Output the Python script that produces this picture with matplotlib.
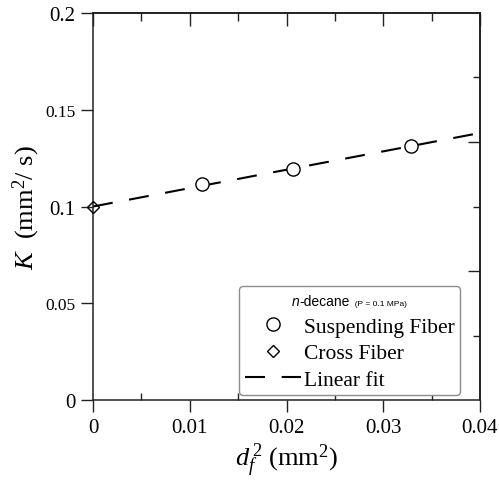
import numpy as np
import matplotlib
matplotlib.use("Agg")
import matplotlib.pyplot as plt
from matplotlib.offsetbox import TextArea, HPacker, AnnotationBbox

plt.rcParams['font.family'] = ['Liberation Serif', 'DejaVu Serif']
plt.rcParams['mathtext.fontset'] = 'custom'
plt.rcParams['mathtext.rm'] = 'Liberation Serif'
plt.rcParams['mathtext.it'] = 'Liberation Serif:italic'

# data
susp_d2 = [0.0113, 0.0207, 0.0329]
susp_K = [0.1116, 0.1194, 0.1313]
cross_d2 = [0.0]
cross_K = [0.0995]
fit_d2 = [0.0, 0.04]
fit_K = [0.100, 0.138]

xticks = [0, 0.01, 0.02, 0.03, 0.04]
xticklabels = ['0', '0.01', '0.02', '0.03', '0.04']
yticks = [0, 0.05, 0.1, 0.15, 0.2]
yticklabels = ['0', '0.05', '0.1', '0.15', '0.2']

fig = plt.figure(figsize=(4.99, 4.81), dpi=100)
ax = fig.add_axes([0.1864, 0.1663, 0.9619 - 0.1864, 0.9709 - 0.1663])

ax.plot(fit_d2, fit_K, color='black', lw=1.5, ls=(0, (9.6, 8.0)),
        label='Linear fit', zorder=2)
ax.plot(susp_d2, susp_K, ls='none', marker='o', ms=9.5, mfc='white',
        mec='black', mew=1.0, label='Suspending Fiber', zorder=3)
ax.plot(cross_d2, cross_K, ls='none', marker='D', ms=6.5, mfc='none',
        mec='black', mew=1.0, label='Cross Fiber', zorder=3, clip_on=False)

ax.set_xlim(0, 0.04)
ax.set_ylim(0, 0.2)
ax.set_xticks(xticks)
ax.set_xticklabels(xticklabels, fontsize=15)
ax.set_xticks(np.arange(0.005, 0.04, 0.01), minor=True)
ax.set_yticks(yticks)
ax.set_yticklabels(yticklabels)
for lab, v in zip(ax.get_yticklabels(), yticks):
    lab.set_fontsize(15 if v in (0, 0.1, 0.2) else 12.5)

for s in ax.spines.values():
    s.set_linewidth(1.1)
    s.set_color('#222222')
ax.tick_params(which='major', direction='out', length=8.6, width=1.0,
               color='#222222', pad=4)
ax.tick_params(which='minor', direction='in', length=5, width=1.0,
               color='#222222')
ax.tick_params(axis='y', which='minor', left=False)

top = ax.secondary_xaxis('top')
top.set_xticks(xticks)
top.set_xticks(np.arange(0.005, 0.04, 0.01), minor=True)
top.tick_params(which='major', direction='in', length=9, width=1.0,
                color='#222222', labeltop=False)
top.tick_params(which='minor', direction='in', length=5.5, width=1.0,
                color='#222222')
top.spines['top'].set_linewidth(1.1)

right = ax.secondary_yaxis('right')
right.set_yticks([0.2 / 3, 0.4 / 3])
right.set_yticks([0.2 / 6, 0.1, 0.5 / 3], minor=True)
right.tick_params(which='major', direction='in', length=9, width=1.0,
                  color='#222222', labelright=False)
right.tick_params(which='minor', direction='in', length=5, width=1.0,
                  color='#222222')
right.spines['right'].set_linewidth(1.1)

ax.set_xlabel(r'$d_f^{\,2}$ (mm$^2$)', fontsize=19, labelpad=3)
ax.set_ylabel(r'$K$  (mm$^2$/ s)', fontsize=19, labelpad=2)

handles, labels = ax.get_legend_handles_labels()
order = [1, 2, 0]
leg = ax.legend([handles[i] for i in order], [labels[i] for i in order],
                loc='lower right', bbox_to_anchor=(0.948, 0.013),
                borderaxespad=0, prop={'size': 15.5}, title=' ',
                title_fontproperties={'size': 15}, handlelength=2.6,
                handletextpad=0.15, labelspacing=0.3, borderpad=0.25,
                fancybox=True, framealpha=1, edgecolor='#8c8c8c')
leg.get_frame().set_linewidth(1.0)

sans = ['Liberation Sans', 'DejaVu Sans']
title_box = HPacker(children=[
    TextArea('n', textprops=dict(family=sans, style='italic', size=10)),
    TextArea('-decane', textprops=dict(family=sans, size=10)),
    TextArea('  (P = 0.1 MPa)', textprops=dict(family=sans, size=6)),
], align='baseline', pad=0, sep=0)
ab = AnnotationBbox(title_box, (0.5, 0.5), xycoords=leg.get_title(),
                    box_alignment=(0.5, 0.5), frameon=False, zorder=10)
ax.add_artist(ab)

fig.savefig('out.png', dpi=100)
